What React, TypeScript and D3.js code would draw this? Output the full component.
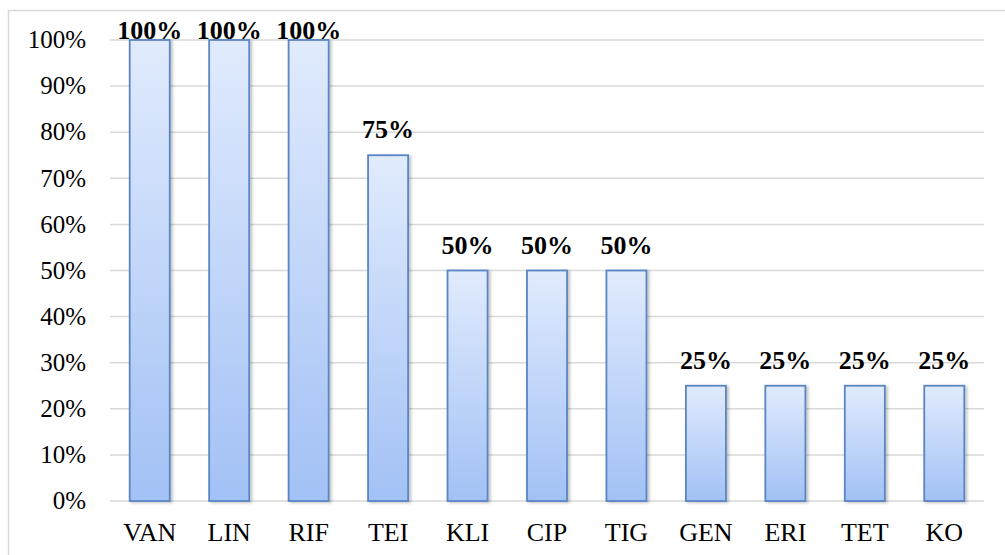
import React from "react";
import * as d3 from "d3";

const categories = ["VAN", "LIN", "RIF", "TEI", "KLI", "CIP", "TIG", "GEN", "ERI", "TET", "KO"];
const values = [100, 100, 100, 75, 50, 50, 50, 25, 25, 25, 25];
const yTicks = [0, 10, 20, 30, 40, 50, 60, 70, 80, 90, 100];

const W = 1005;
const H = 555;
const left = 110;
const right = 984;
const top = 40;
const bottom = 501;
const font = "'Liberation Serif', 'Times New Roman', serif";

export default function App() {
  const x = d3.scaleBand<string>().domain(categories).range([left, right]).paddingInner(0.496).paddingOuter(0.248);
  const y = d3.scaleLinear().domain([0, 100]).range([bottom, top]);
  return (
    <svg width={W} height={H} style={{ position: "absolute", left: 0, top: 0 }}>
      <defs>
        <linearGradient id="barGrad" x1="0" y1="0" x2="0" y2="1">
          <stop offset="0%" stopColor="#e1ebfd" />
          <stop offset="100%" stopColor="#a2c1f5" />
        </linearGradient>
        <filter id="shadow" x="-20%" y="-5%" width="140%" height="110%">
          <feDropShadow dx="2" dy="1" stdDeviation="1.5" floodColor="#000" floodOpacity="0.25" />
        </filter>
      </defs>
      <rect x={0} y={0} width={W} height={H} fill="#fff" />
      <rect x={8.5} y={10.5} width={W + 10} height={H + 10} fill="none" stroke="#d9d9d9" strokeWidth={1.5} />
      {yTicks.map((t) => (
        <g key={t}>
          <line x1={left} x2={right} y1={y(t)} y2={y(t)} stroke="#d9d9d9" strokeWidth={1.5} />
          <text x={86} y={y(t)} dy="0.33em" textAnchor="end" fontFamily={font} fontSize={25} fill="#000">
            {t}%
          </text>
        </g>
      ))}
      {categories.map((c, i) => {
        const bx = x(c)!;
        const bw = x.bandwidth();
        const ly = Math.max(y(values[i]) - 17, top - 1);
        return (
          <g key={c}>
            <rect
              x={bx}
              y={y(values[i])}
              width={bw}
              height={y(0) - y(values[i])}
              fill="url(#barGrad)"
              stroke="#5a86c3"
              strokeWidth={1.8}
              filter="url(#shadow)"
            />
            <text x={bx + bw / 2} y={ly} textAnchor="middle" fontFamily={font} fontSize={26} fontWeight="bold" fill="#000">
              {values[i]}%
            </text>
            <text x={bx + bw / 2} y={541} textAnchor="middle" fontFamily={font} fontSize={26} fill="#000">
              {c}
            </text>
          </g>
        );
      })}
    </svg>
  );
}
